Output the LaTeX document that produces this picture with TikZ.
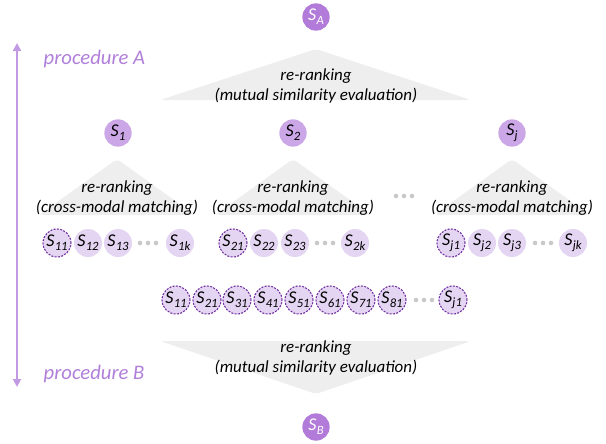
\documentclass[tikz,border=0pt]{standalone}
\usepackage{fontspec}
\setmainfont{Carlito}
\usetikzlibrary{arrows.meta}
\definecolor{sAcol}{HTML}{B27BD9}
\definecolor{sMcol}{HTML}{CCA7E8}
\definecolor{sLcol}{HTML}{E4D5F2}
\definecolor{dashcol}{HTML}{7030A0}
\definecolor{arrcol}{HTML}{C29AE4}
\definecolor{proccol}{HTML}{B07FDA}
\definecolor{tricol}{HTML}{EEEEEE}
\definecolor{dotcol}{HTML}{C9C9C9}
\newcommand{\Slab}[1]{\textit{S}\kern0.2pt\raisebox{-0.45ex}{\fontsize{9.5}{9.5}\selectfont\itshape #1}}
\newcommand{\threedots}[2]{%
  \fill[dotcol] (#1-8,#2) circle[radius=2.3];
  \fill[dotcol] (#1,#2) circle[radius=2.3];
  \fill[dotcol] (#1+8,#2) circle[radius=2.3];}
\tikzset{
  topS/.style={circle, fill=sAcol, minimum size=20.5pt, inner sep=0pt, text=white, font=\fontsize{13.5}{13.5}\selectfont},
  midS/.style={circle, fill=sMcol, minimum size=20.5pt, inner sep=0pt, font=\fontsize{13.5}{13.5}\selectfont},
  lowS/.style={circle, fill=sLcol, minimum size=21pt, inner sep=0pt, font=\fontsize{13.5}{13.5}\selectfont},
  selS/.style={lowS, draw=dashcol, line width=0.8pt, dash pattern=on 1.5pt off 1pt},
  tri/.style={fill=tricol, rounded corners=3pt},
  trilabel/.style={align=center, font=\fontsize{12.7}{15}\selectfont\itshape},
  proclabel/.style={text=proccol, font=\fontsize{15.5}{15.5}\selectfont\itshape, anchor=west},
  procarrow/.style={draw=arrcol, line width=1.6pt, {Triangle[length=6pt,width=6pt]}-{Triangle[length=6pt,width=6pt]}}
}
\begin{document}
\begin{tikzpicture}[x=0.75pt,y=-0.75pt]
\useasboundingbox (0,0) rectangle (606,443);
% triangles
\fill[tri] (316,49) -- (471,100) -- (160,100) -- cycle;
\fill[tri] (160,341) -- (471,341) -- (316,394) -- cycle;
\fill[tri] (117,159) -- (195,215) -- (39,215) -- cycle;
\fill[tri] (293,159) -- (371,215) -- (215,215) -- cycle;
\fill[tri] (512,159) -- (590,215) -- (434,215) -- cycle;
% side arrow
\coordinate (atop) at (17,43);
\coordinate (abot) at (17,387);
\draw[procarrow] (abot) -- (atop);
\node[proclabel] (pA) at (39,59) {procedure A};
\node[proclabel] (pB) at (39,374) {procedure B};
% top / bottom nodes
\node[topS] (SA) at (316,17) {\Slab{A}};
\node[topS] (SB) at (316,427) {\Slab{B}};
\node[trilabel] (lA) at (316,86) {re-ranking\\(mutual similarity evaluation)};
\node[trilabel] (lB) at (316,358) {re-ranking\\(mutual similarity evaluation)};
% middle
\node[midS] (S1) at (118,133) {\Slab{1}};
\node[midS] (S2) at (293,133) {\Slab{2}};
\node[midS] (Sj) at (512,133) {\Slab{j}};
\node[trilabel] (l1) at (117,198) {re-ranking\\(cross-modal matching)};
\node[trilabel] (l2) at (293,198) {re-ranking\\(cross-modal matching)};
\node[trilabel] (lj) at (512,198) {re-ranking\\(cross-modal matching)};
\threedots{404}{196}
% row 1
\node[selS] (S11) at (57,243) {\Slab{11}};
\node[lowS] (S12) at (88,243) {\Slab{12}};
\node[lowS] (S13) at (118,243) {\Slab{13}};
\threedots{148}{243}
\node[lowS] (S1k) at (180,243) {\Slab{1k}};
\node[selS] (S21) at (233,243) {\Slab{21}};
\node[lowS] (S22) at (264,243) {\Slab{22}};
\node[lowS] (S23) at (295,243) {\Slab{23}};
\threedots{325}{243}
\node[lowS] (S2k) at (355,243) {\Slab{2k}};
\node[selS] (Sj1) at (451,243) {\Slab{j1}};
\node[lowS] (Sj2) at (482,243) {\Slab{j2}};
\node[lowS] (Sj3) at (512,243) {\Slab{j3}};
\threedots{543}{243}
\node[lowS] (Sjk) at (573,243) {\Slab{jk}};
% row 2
\node[selS] (R11) at (176,300) {\Slab{11}};
\node[selS] (R21) at (207,300) {\Slab{21}};
\node[selS] (R31) at (237,300) {\Slab{31}};
\node[selS] (R41) at (268,300) {\Slab{41}};
\node[selS] (R51) at (299,300) {\Slab{51}};
\node[selS] (R61) at (330,300) {\Slab{61}};
\node[selS] (R71) at (361,300) {\Slab{71}};
\node[selS] (R81) at (392,300) {\Slab{81}};
\threedots{424}{300}
\node[selS] (Rj1) at (453,300) {\Slab{j1}};
\end{tikzpicture}
\end{document}
